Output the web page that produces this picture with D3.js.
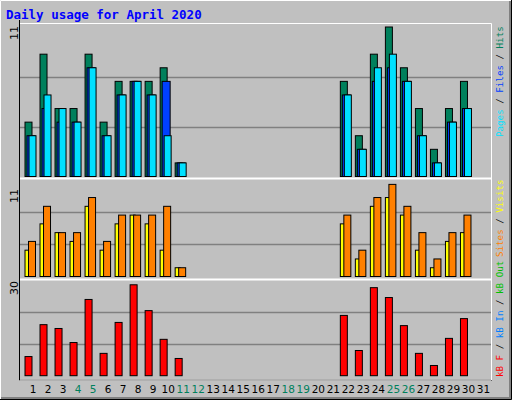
<!DOCTYPE html>
<html><head><meta charset="utf-8">
<script src="https://cdn.jsdelivr.net/npm/d3@7"></script>
<style>body{margin:0;background:#fff}</style></head>
<body><svg id="c" width="512" height="400"></svg>
<script>
const days = d3.range(1, 32);
const weekend = [4,5,11,12,18,19,25,26];
const hits  = [4,9,5,5,9,4,7,7,7,8,1,0,0,0,0,0,0,0,0,0,0,7,3,9,11,8,5,2,5,7,0];
const files = [3,6,5,4,8,3,6,7,6,3,1,0,0,0,0,0,0,0,0,0,0,6,2,8,9,7,3,1,4,5,0];
const pages = [3,5,4,4,8,3,6,7,6,7,1,0,0,0,0,0,0,0,0,0,0,6,2,7,8,7,3,1,4,5,0];
const visits= [3,6,5,4,8,3,6,7,6,3,1,0,0,0,0,0,0,0,0,0,0,6,2,8,9,7,3,1,4,5,0];
const sites = [4,8,5,5,9,4,7,7,7,8,1,0,0,0,0,0,0,0,0,0,0,7,3,9,10.5,8,5,2,5,7,0];
const kbytes= [6,16,14.8,10.4,23.9,7,16.7,28.5,20.4,11.4,5.4,0,0,0,0,0,0,0,0,0,0,18.9,7.9,27.6,24.5,15.7,7,3.2,11.7,17.9,0];
const maxTop = 11, maxMid = 11, maxBot = 30;

const svg = d3.select("#c");
// frame
svg.append("rect").attr("x",0).attr("y",0).attr("width",512).attr("height",400).attr("fill","#c0c0c0");
svg.append("path").attr("d","M0.5,399.5V0.5H511.5").attr("stroke","#fff").attr("fill","none");
svg.append("path").attr("d","M1,398H510V1").attr("stroke","#808080").attr("stroke-width",2).attr("fill","none");
svg.append("path").attr("d","M0,399.5H511.5V0").attr("stroke","#000").attr("fill","none");
svg.append("text").attr("x",6).attr("y",19).text("Daily usage for April 2020")
  .attr("font-family","DejaVu Sans Mono").attr("font-weight","bold").attr("font-size",12.5).attr("fill","#0000ff");

const x = d3.scaleBand().domain(days).range([20.5,486]).paddingInner(0);
const L=20, R=491;
const panels = [{top:24,bot:178,base:176.5,max:maxTop,yt:27},{top:179,bot:279,base:276.5,max:maxMid,yt:180},{top:280,bot:379,base:375.7,max:maxBot,yt:280}];
panels.forEach(p=>{
  svg.append("rect").attr("x",L).attr("y",p.top).attr("width",R-L).attr("height",p.bot-p.top).attr("fill","#c0c0c0");
  const gh=(p.base-p.yt)/3;
  [1,2].forEach(i=>svg.append("line").attr("x1",L).attr("x2",R).attr("y1",Math.round(p.base-gh*i)+0.5).attr("y2",Math.round(p.base-gh*i)+0.5).attr("stroke","#808080").attr("stroke-width",1.5));
  p.y=d3.scaleLinear().domain([0,p.max]).range([p.base,p.yt]);
});
// borders
svg.append("path").attr("d",`M${L-0.5},20V380H${R+1}`).attr("stroke","#000").attr("fill","none");
svg.append("path").attr("d",`M${L},${23.5}H${R+0.5}V380`).attr("stroke","#fff").attr("fill","none");
[178.5,279.5].forEach(y=>svg.append("line").attr("x1",L).attr("x2",R).attr("y1",y).attr("y2",y).attr("stroke","#fff").attr("stroke-width",2));
svg.append("line").attr("x1",L).attr("x2",R).attr("y1",380).attr("y2",380).attr("stroke","#fff");

function bars(data,p,dx,w,color){
  svg.append("g").selectAll("rect").data(days.filter((d,i)=>data[i]>0)).join("rect")
    .attr("x",d=>x(d)+4.5+dx).attr("width",w)
    .attr("y",d=>p.y(data[d-1])).attr("height",d=>p.base-p.y(data[d-1]))
    .attr("fill",color).attr("stroke","#000").attr("stroke-width",1);
}
bars(hits,panels[0],0,7,"#00805c");
bars(pages,panels[0],2,8,"#0040ff");
bars(files,panels[0],4,7,"#00e0ff");
bars(visits,panels[1],0,5,"#ffff00");
bars(sites,panels[1],3.5,7,"#ff8000");
bars(kbytes,panels[2],0,7,"#ff0000");

// day labels
svg.append("g").selectAll("text").data(days).join("text")
  .attr("x",d=>x(d)+x.bandwidth()/2+5).attr("y",393).attr("text-anchor","middle")
  .attr("font-family","DejaVu Sans").attr("font-size",10.5)
  .attr("fill",d=>weekend.includes(d)?"#00805c":"#000").text(d=>d);
// left max labels
[[33,"11"],[196,"11"],[288,"30"]].forEach(([y,t])=>svg.append("text")
  .attr("transform",`translate(18,${y}) rotate(-90)`).attr("text-anchor","middle")
  .attr("font-family","DejaVu Sans").attr("font-size",11).text(t));
// right legends
function legend(y,parts){
  const t=svg.append("text").attr("transform",`translate(503,${y}) rotate(-90)`)
    .attr("font-family","DejaVu Sans Mono").attr("font-size",9.2);
  parts.forEach(([s,c])=>t.append("tspan").attr("fill",c).text(s));
}
legend(137,[["Pages","#00e0ff"],[" / ","#000"],["Files","#0040ff"],[" / ","#000"],["Hits","#00805c"]]);
legend(257,[["Sites","#ff8000"],[" / ","#000"],["Visits","#ffff00"]]);
legend(377,[["kB F","#ff0000"],[" / ","#000"],["kB In","#0080ff"],[" / ","#000"],["kB Out","#00c000"]]);
</script></body></html>
